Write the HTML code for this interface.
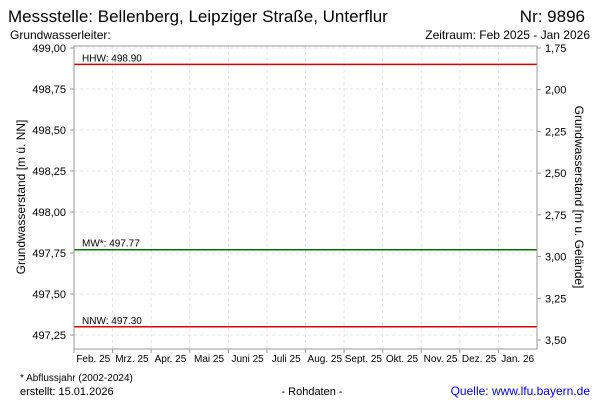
<!DOCTYPE html>
<html><head><meta charset="utf-8"><style>
body{margin:0;background:#fff;font-family:"Liberation Sans",sans-serif}
svg text{font-family:"Liberation Sans",sans-serif}
</style></head><body>
<svg id="c" width="600" height="400">
<text x="8" y="22" font-size="17">Messstelle: Bellenberg, Leipziger Straße, Unterflur</text>
<text x="585" y="22" font-size="17" text-anchor="end">Nr: 9896</text>
<text x="10" y="39" font-size="12">Grundwasserleiter:</text>
<text x="590" y="39" font-size="12" text-anchor="end">Zeitraum: Feb 2025 - Jan 2026</text>
<g id="grid"></g>
<g id="marks"></g>
<rect x="74" y="46" width="463" height="303" fill="none" stroke="#999"/>
<g id="axes" font-size="11"></g>
<text transform="translate(25,197) rotate(-90)" font-size="12" text-anchor="middle">Grundwasserstand [m ü. NN]</text>
<text transform="translate(575,197) rotate(90)" font-size="12" text-anchor="middle">Grundwasserstand [m u. Gelände]</text>
<text x="20" y="381" font-size="10">* Abflussjahr (2002-2024)</text>
<text x="20" y="395" font-size="11">erstellt:  15.01.2026</text>
<text x="312" y="395" font-size="11" text-anchor="middle">- Rohdaten -</text>
<text x="590" y="395" font-size="12" fill="#0000ee" text-anchor="end">Quelle: www.lfu.bayern.de</text>
</svg>
<script>
const leftTicks=[499.00,498.75,498.50,498.25,498.00,497.75,497.50,497.25];
const rightTicks=[1.75,2.00,2.25,2.50,2.75,3.00,3.25,3.50];
const months=["Feb. 25","Mrz. 25","Apr. 25","Mai 25","Juni 25","Juli 25","Aug. 25","Sept. 25","Okt. 25","Nov. 25","Dez. 25","Jan. 26"];
const refNames=["HHW","MW*","NNW"];
const refValues=[498.90,497.77,497.30];
const refColors=["#e00000","#007000","#e00000"];
const NS="http://www.w3.org/2000/svg";
const X0=74,X1=537,Y0=46,Y1=349;
const yL=v=>48+(499.00-v)*164;
const yR=v=>48+(v-1.75)*(292/1.75);
const xM=i=>X0+i*(X1-X0)/months.length;
function mk(p,t,a){const e=document.createElementNS(NS,t);for(const k in a)e.setAttribute(k,a[k]);document.getElementById(p).appendChild(e);return e;}
const fmt=v=>v.toFixed(2).replace('.',',');
leftTicks.forEach((v,i)=>{const y=yL(v);
 let g=mk('grid','line',{x1:X0,x2:X1,y1:y,y2:y,stroke:'#e4e4e4','stroke-dasharray':'3,3'});
 
 
 let tk=mk('axes','line',{x1:X0-4,x2:X0,y1:y,y2:y,stroke:'#999'});
 
 
 let t=mk('axes','text',{x:X0-8,y:y+4,'text-anchor':'end'});t.textContent=fmt(v);
 
 
});
rightTicks.forEach(v=>{const y=yR(v);
 let tk=mk('axes','line',{x1:X1,x2:X1+4,y1:y,y2:y,stroke:'#999'});
 
 
 let t=mk('axes','text',{x:X1+8,y:y+4});t.textContent=fmt(v);
 
 
});
months.forEach((m,i)=>{const x=xM(i);
 if(i>0){let g=mk('grid','line',{x1:x,x2:x,y1:Y0,y2:Y1,stroke:'#e4e4e4','stroke-dasharray':'3,3'});
 
 }
 let tk=mk('axes','line',{x1:x,x2:x,y1:Y1,y2:Y1+4,stroke:'#999'});
 
 
 let t=mk('axes','text',{x:(x+xM(i+1))/2,y:Y1+13,'text-anchor':'middle','font-size':'10'});t.textContent=m;
 
 
});
refValues.forEach((v,i)=>{const y=yL(v);
 let l=mk('marks','line',{x1:X0,x2:X1,y1:y,y2:y,stroke:refColors[i],'stroke-width':1.5});
 
 
 let t=mk('marks','text',{x:X0+8,y:y-3,'font-size':'10'});t.textContent=refNames[i]+': '+v.toFixed(2);
 
 
});
</script>
</body></html>
